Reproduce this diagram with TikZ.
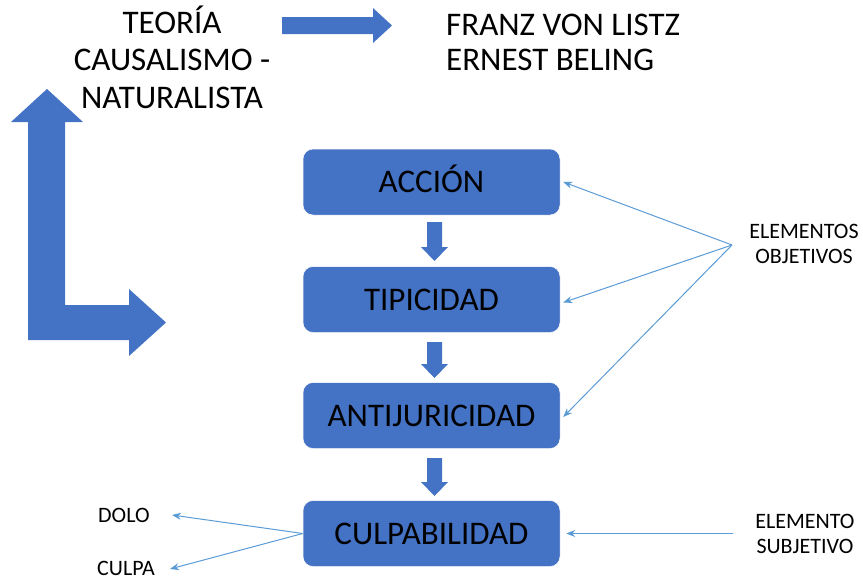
\documentclass[tikz,border=0pt]{standalone}
\usepackage{fontspec}
\setmainfont{Carlito}
\usetikzlibrary{arrows.meta}
\definecolor{boxblue}{HTML}{4472C4}
\definecolor{linkblue}{HTML}{5B9BD5}
\begin{document}
\begin{tikzpicture}[x=1pt,y=-1pt,
  stagebox/.style={rectangle, rounded corners=10pt, fill=boxblue, draw=white, line width=0.5pt,
    minimum width=257pt, minimum height=66pt, font=\fontsize{33}{38}\selectfont,
    text height=21pt, text depth=0pt, inner sep=0pt},
  bigtext/.style={inner sep=0pt, anchor=base},
  smalltext/.style={font=\fontsize{22}{24.5}\selectfont, inner sep=0pt, anchor=base, align=center},
  link/.style={draw=linkblue, line width=1pt, -{Stealth[length=9pt,width=7pt]}},
  blockarrow/.style={fill=boxblue, draw=none}]
\useasboundingbox (0,0) rectangle (863,579);

% stage boxes
\node[stagebox] (acc)  at (431.5,182)   {ACCIÓN};
\node[stagebox] (tip)  at (431.5,299.5) {TIPICIDAD};
\node[stagebox] (anti) at (431.5,415.5) {ANTIJURICIDAD};
\node[stagebox] (culp) at (431.5,533.5) {CULPABILIDAD};

% down block arrows
\newcommand\blockdown[2]{%
  \fill[blockarrow] (427,#1) -- (442,#1) -- (442,{#2-14}) -- (448,{#2-14}) -- (434.5,#2)
    -- (421,{#2-14}) -- (427,{#2-14}) -- cycle;}
\blockdown{222}{261}
\blockdown{342}{378}
\blockdown{458}{496}

% top right block arrow
\fill[blockarrow] (282,17) -- (373,17) -- (373,8) -- (392,25.5) -- (373,43) -- (373,34) -- (282,34) -- cycle;

% L-shaped bent arrow
\fill[blockarrow] (47,89) -- (83,122) -- (65,122) -- (65,305) -- (129,305) -- (129,289)
  -- (166,322.5) -- (129,356) -- (129,340) -- (28,340) -- (28,122) -- (11,122) -- cycle;

% texts (base anchor = baseline of the last line)
\node[bigtext, align=center, font=\fontsize{33}{37.5}\selectfont] (teoria) at (172,108)
  {TEORÍA\\CAUSALISMO -\\NATURALISTA};
\node[bigtext, align=left, anchor=base west, font=\fontsize{33}{35}\selectfont] (autores) at (446,70)
  {FRANZ VON LISTZ\\ERNEST BELING};
\node[smalltext] (obj) at (804,263) {ELEMENTOS\\OBJETIVOS};
\node[smalltext] (subj) at (805,553) {ELEMENTO\\SUBJETIVO};
\node[smalltext, anchor=base west] (dolo) at (98,522) {DOLO};
\node[smalltext, anchor=base west] (culpa) at (97,575) {CULPA};

% thin connectors
\coordinate (eo) at (732,245);
\draw[link] (eo) -- ([xshift=3pt]acc.east);
\draw[link] (eo) -- ([xshift=3pt,yshift=-3pt]tip.east);
\draw[link] (eo) -- ([xshift=3pt,yshift=-1.5pt]anti.east);
\coordinate (es) at (733,533.5);
\draw[link] (es) -- ([xshift=6pt]culp.east);
\coordinate (dtip) at (172,515);
\coordinate (ctip) at (170,569);
\draw[link] (culp.west) -- (dtip);
\draw[link] (culp.west) -- (ctip);
\end{tikzpicture}
\end{document}
